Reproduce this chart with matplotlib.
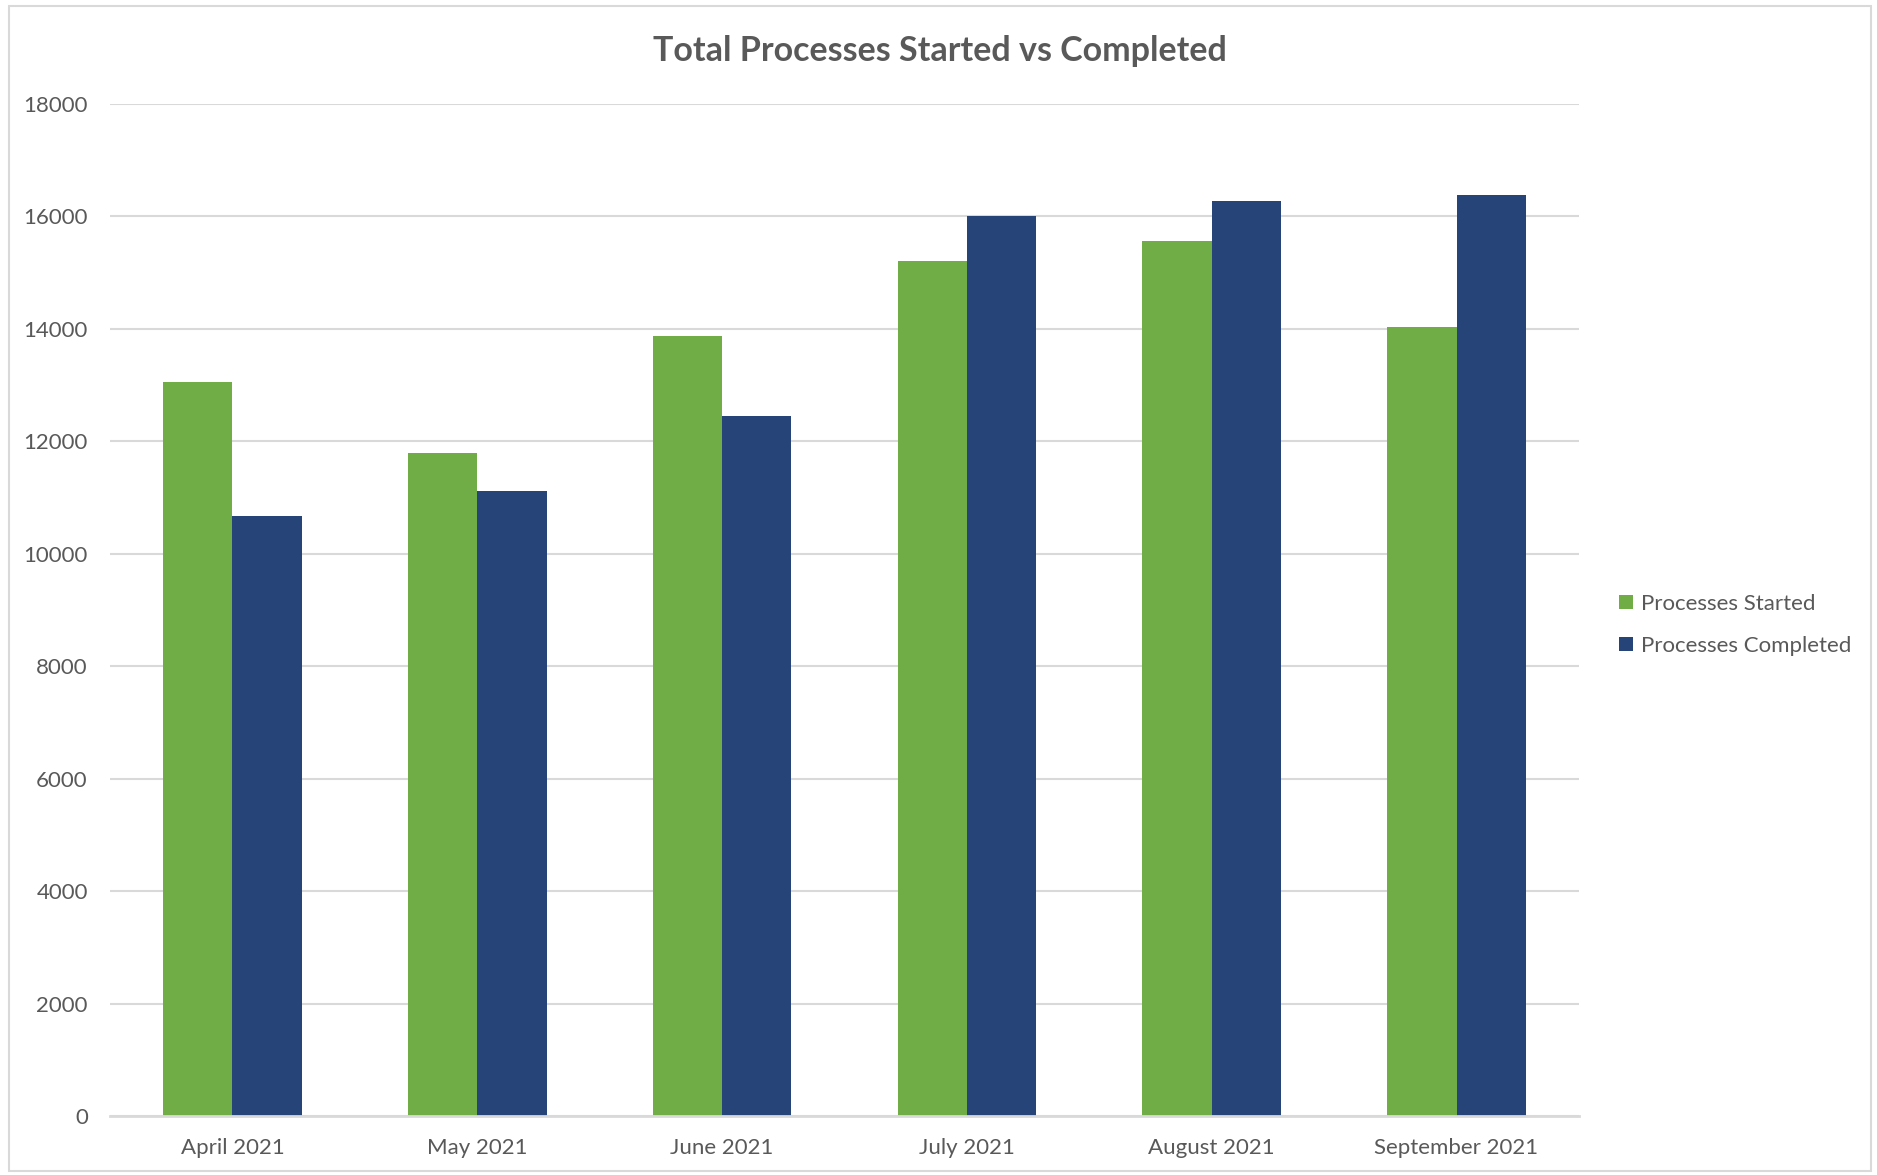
import numpy as np
import matplotlib.pyplot as plt
from matplotlib.patches import Rectangle

months = ["April 2021", "May 2021", "June 2021", "July 2021", "August 2021", "September 2021"]
started = [13050, 11800, 13880, 15210, 15560, 14040]
completed = [10670, 11120, 12450, 16000, 16270, 16390]
yticks = [0, 2000, 4000, 6000, 8000, 10000, 12000, 14000, 16000, 18000]

green = '#70ad47'
navy = '#264478'
txt = '#595959'
grid = '#d9d9d9'

plt.rcParams['font.family'] = ['Lato', 'DejaVu Sans']

fig = plt.figure(figsize=(18.77, 11.75), dpi=100)
fig.patches.append(Rectangle((0.005, 0.003), 0.992, 0.992, transform=fig.transFigure,
                             fill=False, edgecolor='#d9d9d9', linewidth=1.5))
ax = fig.add_axes([0.0586, 0.0502, 0.7826, 0.8613])

x = np.arange(len(months))
w = 0.283
ax.bar(x - w / 2, started, w, color=green, label='Processes Started', zorder=2)
ax.bar(x + w / 2, completed, w, color=navy, label='Processes Completed', zorder=2)

ax.set_xlim(-0.5, len(months) - 0.5)
ax.set_ylim(0, 18000)
ax.set_yticks(yticks)
ax.set_yticklabels([str(v) for v in yticks])
ax.set_xticks(x)
ax.set_xticklabels(months)
ax.tick_params(axis='both', length=0, labelsize=16, labelcolor=txt)
ax.tick_params(axis='x', pad=16)
ax.tick_params(axis='y', pad=16)

ax.grid(axis='y', color=grid, linewidth=1.5, zorder=0)
for side in ['top', 'right', 'left']:
    ax.spines[side].set_visible(False)
ax.spines['bottom'].set_color(grid)
ax.spines['bottom'].set_linewidth(2)

fig.text(0.501, 0.957, 'Total Processes Started vs Completed', ha='center', va='center',
         fontsize=24.5, fontweight='bold', color=txt)

leg = fig.legend(loc='center left', bbox_to_anchor=(0.852, 0.468), frameon=False,
                 fontsize=16, labelcolor=txt, handlelength=0.6, handleheight=0.6,
                 handletextpad=0.4, labelspacing=1.0)

fig.savefig('out.png', dpi=100)
